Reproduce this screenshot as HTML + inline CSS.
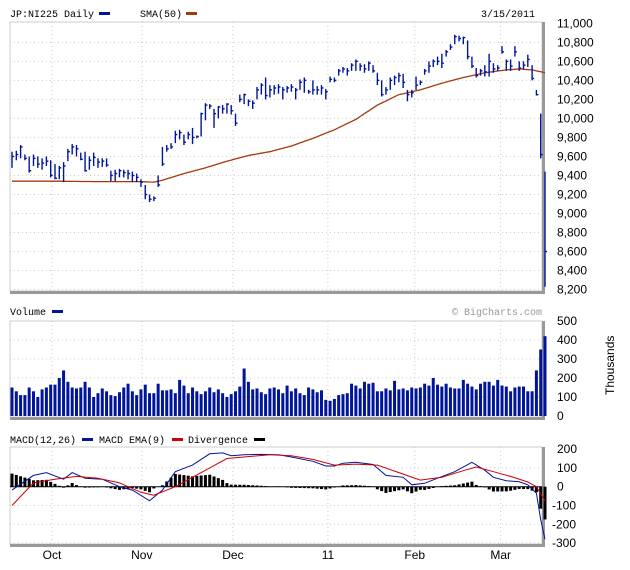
<!DOCTYPE html>
<html><head><meta charset="utf-8"><style>
body{margin:0;background:#fff;width:630px;height:570px;overflow:hidden}
svg{display:block}
text{font-family:"Liberation Mono",monospace;font-size:10px;fill:#000}
.ax{font-family:"Liberation Sans",sans-serif;font-size:12px}
</style></head><body>
<svg id="chart" width="630" height="570">
<g id="static"></g>
</svg>
<script>
const highs=[9650,9660,9720,9620,9600,9620,9600,9580,9600,9560,9520,9500,9540,9680,9730,9720,9640,9650,9600,9640,9580,9580,9580,9450,9460,9470,9460,9460,9440,9420,9360,9300,9200,9180,9400,9700,9720,9740,9870,9880,9830,9860,9900,9820,10060,10160,10150,10100,10130,10140,10160,10140,10050,10250,10260,10200,10190,10330,10370,10430,10350,10350,10360,10330,10340,10360,10320,10410,10430,10300,10400,10340,10350,10310,10440,10430,10520,10540,10530,10580,10620,10580,10570,10600,10560,10480,10400,10330,10430,10450,10480,10470,10300,10300,10440,10400,10520,10600,10620,10650,10680,10720,10780,10880,10870,10860,10820,10650,10530,10520,10560,10680,10580,10560,10760,10620,10620,10760,10600,10600,10670,10560,10300,10050,9440];
const lows=[9480,9560,9580,9560,9430,9500,9480,9460,9500,9380,9360,9360,9330,9550,9620,9600,9560,9440,9460,9500,9480,9490,9490,9340,9340,9380,9380,9360,9330,9330,9280,9150,9120,9130,9280,9500,9650,9680,9740,9780,9720,9780,9730,9790,9810,9980,10100,9900,10000,10050,10050,10040,9920,10170,10150,10130,10100,10200,10250,10200,10220,10250,10260,10200,10270,10280,10200,10300,10270,10260,10250,10250,10250,10200,10380,10380,10450,10480,10450,10500,10500,10500,10480,10500,10480,10350,10230,10250,10300,10350,10380,10320,10180,10220,10300,10350,10460,10480,10540,10560,10530,10650,10720,10780,10810,10780,10620,10530,10430,10450,10440,10440,10480,10500,10680,10500,10500,10650,10500,10520,10540,10400,10240,9580,8230];
const closes=[9600,9620,9700,9580,9450,9580,9520,9530,9550,9400,9370,9480,9500,9650,9700,9680,9570,9450,9560,9590,9540,9550,9510,9400,9420,9450,9430,9420,9400,9380,9330,9200,9150,9160,9300,9520,9680,9700,9830,9850,9750,9830,9800,9810,10050,10140,10130,10050,10120,10100,10150,10080,9950,10200,10250,10180,10160,10300,10350,10240,10300,10320,10330,10300,10320,10330,10300,10380,10400,10280,10300,10300,10320,10280,10410,10400,10500,10520,10500,10560,10600,10550,10520,10580,10500,10400,10250,10300,10400,10430,10450,10380,10250,10270,10350,10380,10500,10550,10600,10600,10580,10700,10750,10860,10840,10850,10650,10550,10450,10500,10490,10600,10520,10530,10700,10600,10550,10700,10530,10560,10620,10420,10250,9620,8600];
const smaIdx=[0,10,20,30,33,35,40,45,50,55,60,65,70,75,80,85,90,95,100,105,110,115,118,121,124];
const smaVals=[9340,9340,9335,9335,9330,9350,9420,9480,9550,9610,9650,9710,9790,9880,9990,10140,10250,10300,10370,10430,10480,10510,10520,10510,10480];
const volumes=[150,130,110,110,150,130,100,140,150,165,165,200,240,180,150,145,150,180,150,100,120,145,130,110,105,125,150,170,130,110,140,165,120,120,170,135,135,140,120,190,160,120,150,130,115,130,150,125,140,120,100,115,130,155,250,180,140,145,125,115,145,150,140,120,160,130,145,120,110,150,140,125,135,85,80,90,110,115,120,170,160,145,180,170,175,130,130,145,135,185,140,145,135,150,145,150,170,160,200,165,155,170,150,145,145,190,170,155,140,170,180,180,160,190,160,155,130,150,155,155,130,130,240,350,420];
const macdIdx=[0,5,8,12,14,17,21,25,28,32,35,38,42,46,49,51,54,58,62,65,70,73,75,77,80,84,87,91,93,96,99,103,107,110,112,115,118,120,122,123,124];
const macdVals=[-18,60,75,40,75,45,40,0,-18,-75,-18,80,115,175,180,165,170,172,170,158,135,110,110,125,130,118,60,50,10,18,45,80,130,88,50,32,26,10,-35,-175,-280];
const sigIdx=[0,5,10,15,20,25,30,33,38,42,46,50,55,60,65,70,75,80,85,90,95,100,105,108,112,116,120,122,124];
const sigVals=[-100,20,40,55,45,20,-30,-45,0,50,100,150,160,170,165,145,115,120,115,75,35,50,85,105,80,55,25,0,-75];
const priceTicks=[11000,10800,10600,10400,10200,10000,9800,9600,9400,9200,9000,8800,8600,8400,8200];
const tickLabels=["11,000","10,800","10,600","10,400","10,200","10,000","9,800","9,600","9,400","9,200","9,000","8,800","8,600","8,400","8,200"];
const volTicks=[500,400,300,200,100,0];
const macdTicks=[200,100,0,-100,-200,-300];
const monthNames=["Oct","Nov","Dec","11","Feb","Mar"];
const monthIdx=[9.3,30.2,51.4,73.5,93.7,113.7];

const NS="http://www.w3.org/2000/svg";
const svg=document.getElementById('chart');
const L=10,R=542;
const xOf=i=>12+i*(533/124);
const yP=p=>23.3+(11000-p)*0.0951;
const yV=v=>416-v*0.19;
const yM=v=>486.7-v*0.188;
function mk(tag,attrs,parent){const e=document.createElementNS(NS,tag);for(const k in attrs)e.setAttribute(k,attrs[k]);(parent||svg).appendChild(e);return e;}
function interp(idx,vals,i){for(let k=0;k<idx.length-1;k++){if(i>=idx[k]&&i<=idx[k+1]){const t=(i-idx[k])/(idx[k+1]-idx[k]);return vals[k]+t*(vals[k+1]-vals[k]);}}return vals[vals.length-1];}

// panels
const panels=[[22,291,'price-panel'],[321,417,'volume-panel'],[447,544,'macd-panel']];
panels.forEach(p=>{
 const g=mk('g',{});
 
 
 mk('rect',{x:L,y:p[0],width:R-L,height:p[1]-p[0],fill:'#fff',stroke:'#ccc','stroke-width':1},g);
 mk('line',{x1:R+1.5,y1:p[0],x2:R+1.5,y2:p[1]+2,stroke:'#999','stroke-width':3},g);
 mk('line',{x1:L,y1:p[1]+1.5,x2:R+3,y2:p[1]+1.5,stroke:'#999','stroke-width':3},g);
 monthIdx.forEach(mi=>{mk('line',{x1:xOf(mi),y1:p[0],x2:xOf(mi),y2:p[1],stroke:'#ccc','stroke-dasharray':'1,3'},g);});
});
// price grid + labels
priceTicks.forEach((t,k)=>{
 const y=yP(t);
 if(k>0) mk('line',{x1:L,y1:y,x2:R,y2:y,stroke:'#ccc','stroke-dasharray':'1,3'});
 const tx=mk('text',{x:557,y:y+4,class:'ax'});tx.textContent=tickLabels[k];
 
 
});
volTicks.forEach(t=>{
 const y=yV(t);
 if(t>0&&t<500) mk('line',{x1:L,y1:y,x2:R,y2:y,stroke:'#ccc','stroke-dasharray':'1,3'});
 const tx=mk('text',{x:557,y:y+4,class:'ax'});tx.textContent=String(t);
 
 
});
macdTicks.forEach(t=>{
 const y=yM(t);
 if(t!==0&&t<200) mk('line',{x1:L,y1:y,x2:R,y2:y,stroke:'#ccc','stroke-dasharray':'1,3'});
 const tx=mk('text',{x:t<0?552:557,y:y+4,class:'ax'});tx.textContent=String(t);
 
 
});
monthNames.forEach((m,k)=>{
 const tx=mk('text',{x:xOf(monthIdx[k]),y:559,class:'ax','text-anchor':'middle'});tx.textContent=m;
 
 
});
// SMA
let d='';for(let i=0;i<=124;i++){d+=(i?'L':'M')+xOf(i).toFixed(1)+','+yP(interp(smaIdx,smaVals,i)).toFixed(1);}
const sma=mk('path',{d:d,fill:'none',stroke:'#a33a0a','stroke-width':1.3});


// OHLC bars
closes.forEach((c,i)=>{
 const x=xOf(i);
 const g=mk('g',{stroke:'#00159a','stroke-width':1.4});
 
 
 mk('line',{x1:x,y1:yP(highs[i]),x2:x,y2:yP(lows[i])},g);
 mk('line',{x1:x,y1:yP(c),x2:x+2,y2:yP(c)},g);
});
// volume
volumes.forEach((v,i)=>{
 const r=mk('rect',{x:xOf(i)-1.5,y:yV(v),width:3,height:416-yV(v),fill:'#00159a'});
 
 
});
// MACD histogram
for(let i=0;i<=124;i++){
 const h=interp(macdIdx,macdVals,i)-interp(sigIdx,sigVals,i);
 const y0=yM(0),y1=yM(h*0.85);
 const r=mk('rect',{x:xOf(i)-1.5,y:Math.min(y0,y1),width:3,height:Math.abs(y1-y0),fill:'#000'});
 
 
}
mk('line',{x1:L,y1:yM(0),x2:R,y2:yM(0),stroke:'#000','stroke-width':1});
let dm='';macdIdx.forEach((ix,k)=>{dm+=(k?'L':'M')+xOf(ix).toFixed(1)+','+yM(macdVals[k]).toFixed(1);});
const ml=mk('path',{d:dm,fill:'none',stroke:'#00159a','stroke-width':1});


let ds='';sigIdx.forEach((ix,k)=>{ds+=(k?'L':'M')+xOf(ix).toFixed(1)+','+yM(sigVals[k]).toFixed(1);});
const sl=mk('path',{d:ds,fill:'none',stroke:'#d00000','stroke-width':1});


</script>
<svg width="630" height="570" style="position:absolute;left:0;top:0">
<text x="10" y="17">JP:NI225 Daily</text>
<rect x="99" y="12" width="11" height="3" fill="#00159a"/>
<text x="140" y="17">SMA(50)</text>
<rect x="186" y="12" width="11" height="3" fill="#a33a0a"/>
<text x="535" y="17" text-anchor="end">3/15/2011</text>
<text x="10" y="315">Volume</text>
<rect x="52" y="310" width="11" height="3" fill="#00159a"/>
<text x="542" y="315" text-anchor="end" style="fill:#999">© BigCharts.com</text>
<text x="10" y="443">MACD(12,26)</text>
<rect x="82" y="438" width="11" height="3" fill="#00159a"/>
<text x="99" y="443">MACD EMA(9)</text>
<rect x="172" y="438" width="11" height="3" fill="#d00000"/>
<text x="188" y="443">Divergence</text>
<rect x="254" y="438" width="11" height="3" fill="#000"/>
<text x="0" y="0" transform="translate(614,395) rotate(-90)" style="font-family:'Liberation Sans',sans-serif;font-size:12px">Thousands</text>
</svg>
</body></html>
